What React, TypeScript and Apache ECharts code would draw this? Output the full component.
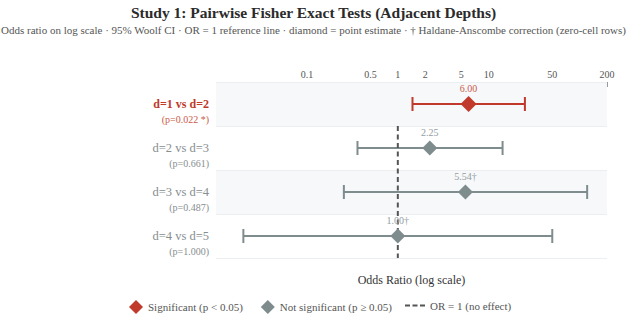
import React, { useEffect, useRef } from "react";
import * as echarts from "echarts";

const categories = ["d=1 vs d=2", "d=2 vs d=3", "d=3 vs d=4", "d=4 vs d=5"];
const pLabels = ["(p=0.022 *)", "(p=0.661)", "(p=0.487)", "(p=1.000)"];
const oddsRatios = [6.0, 2.25, 5.54, 1.0];
const orLabels = ["6.00", "2.25", "5.54†", "1.00†"];
const ciLow = [1.45, 0.36, 0.255, 0.02];
const ciHigh = [25.0, 14.2, 121, 50];
const significant = [true, false, false, false];
const tickValues = [0.1, 0.5, 1, 2, 5, 10, 50, 200];
const axisMin = 0.01;
const axisMax = 200;

const RED = "#c0392b";
const GRAY = "#7f8c8d";
const FONT = "'Liberation Serif', 'Times New Roman', serif";

const lg = (v: number) => Math.log10(v);

export default function App() {
  const ref = useRef<HTMLDivElement>(null);
  useEffect(() => {
    if (!ref.current) return;
    const chart = echarts.init(ref.current, null, { renderer: "svg" });
    const sigData: any[] = [];
    const nsData: any[] = [];
    oddsRatios.forEach((v, i) => {
      const item = { value: [lg(v), i], label: { formatter: orLabels[i] } };
      (significant[i] ? sigData : nsData).push(item);
    });
    const ciData = categories.map((_, i) => [lg(ciLow[i]), lg(ciHigh[i]), i, significant[i] ? 1 : 0]);

    const legendText = { fontFamily: FONT, fontSize: 11, color: "#555" };

    const option: any = {
      animation: false,
      textStyle: { fontFamily: FONT },
      title: [
        {
          text: "Study 1: Pairwise Fisher Exact Tests (Adjacent Depths)",
          left: "center",
          top: -1,
          textStyle: { fontFamily: FONT, fontSize: 15.5, fontWeight: "bold", color: "#2b2b2b" },
        },
        {
          text: "Odds ratio on log scale · 95% Woolf CI · OR = 1 reference line · diamond = point estimate · † Haldane-Anscombe correction (zero-cell rows)",
          left: "center",
          top: 19,
          textStyle: { fontFamily: FONT, fontSize: 11, fontWeight: "normal", color: "#555" },
        },
      ],
      graphic: [
        {
          type: "text",
          x: 411.5,
          y: 280,
          style: {
            text: "Odds Ratio (log scale)",
            fontFamily: FONT,
            fontSize: 12,
            fill: "#333",
            textAlign: "center",
            textVerticalAlign: "middle",
          },
        },
      ],
      legend: [
        {
          top: 295,
          left: 124,
          itemWidth: 14,
          itemHeight: 14,
          itemGap: 18,
          textStyle: legendText,
          data: [
            { name: "Significant (p < 0.05)", icon: "diamond" },
            { name: "Not significant (p ≥ 0.05)", icon: "diamond" },
          ],
        },
        {
          top: 295,
          left: 400,
          itemWidth: 20,
          itemHeight: 14,
          textStyle: legendText,
          data: [
            {
              name: "OR = 1 (no effect)",
              icon: "path://M0,0h5v2H0z M7.5,0h5v2h-5z M15,0h5v2h-5z",
            },
          ],
        },
      ],
      grid: { left: 216, right: 20, top: 82, height: 176 },
      xAxis: {
        type: "value",
        position: "top",
        min: lg(axisMin),
        max: lg(axisMax),
        axisLine: { show: false },
        splitLine: { show: false },
        axisTick: {
          show: true,
          inside: true,
          length: 5,
          customValues: [lg(200)],
          lineStyle: { color: "#999" },
        },
        axisLabel: {
          customValues: tickValues.map(lg),
          formatter: (v: number) => String(Number(Math.pow(10, v).toPrecision(3))),
          fontFamily: FONT,
          fontSize: 10,
          color: "#555",
          margin: 3,
        },
      },
      yAxis: {
        type: "category",
        inverse: true,
        data: categories,
        axisLine: { show: false },
        axisTick: { show: false },
        splitLine: { show: true, lineStyle: { color: "#eceff2", width: 1 } },
        splitArea: { show: true, areaStyle: { color: ["#f6f8fa", "#ffffff"] } },
        axisLabel: {
          margin: 7,
          align: "right",
          formatter: (v: string) => {
            const i = categories.indexOf(v);
            const s = significant[i];
            return `{gap| }\n{${s ? "sig" : "ns"}|${v}}\n{${s ? "sigP" : "nsP"}|${pLabels[i]}}`;
          },
          rich: {
            gap: { fontSize: 10, lineHeight: 15 },
            sig: { fontFamily: FONT, fontSize: 12, fontWeight: "bold", color: RED, lineHeight: 16, align: "right" },
            sigP: { fontFamily: FONT, fontSize: 10, color: "#cc5a4a", lineHeight: 15, align: "right" },
            ns: { fontFamily: FONT, fontSize: 12.5, color: "#868e90", lineHeight: 16, align: "right" },
            nsP: { fontFamily: FONT, fontSize: 10, color: "#868e90", lineHeight: 15, align: "right" },
          },
        },
      },
      series: [
        {
          type: "custom",
          name: "ci",
          data: ciData,
          encode: { x: [0, 1], y: 2 },
          z: 2,
          renderItem: (params: any, api: any) => {
            const lo = api.value(0);
            const hi = api.value(1);
            const idx = api.value(2);
            const c = api.value(3) ? RED : GRAY;
            const p1 = api.coord([lo, idx]);
            const p2 = api.coord([hi, idx]);
            const cap = 7;
            const st = { stroke: c, lineWidth: 2 };
            return {
              type: "group",
              children: [
                { type: "line", shape: { x1: p1[0], y1: p1[1], x2: p2[0], y2: p2[1] }, style: st },
                { type: "line", shape: { x1: p1[0], y1: p1[1] - cap, x2: p1[0], y2: p1[1] + cap }, style: st },
                { type: "line", shape: { x1: p2[0], y1: p2[1] - cap, x2: p2[0], y2: p2[1] + cap }, style: st },
              ],
            };
          },
        },
        {
          type: "custom",
          name: "ref",
          data: [[lg(1), 0]],
          encode: { x: 0, y: 1 },
          z: 3,
          renderItem: (params: any, api: any) => {
            const x = api.coord([api.value(0), 0])[0];
            const h = api.size([0, 1])[1];
            const yTop = api.coord([0, 1])[1] - h / 2;
            const yBot = api.coord([0, categories.length - 1])[1] + h / 2;
            return {
              type: "line",
              shape: { x1: x, y1: yTop, x2: x, y2: yBot },
              style: { stroke: "#555", lineWidth: 2, lineDash: [5, 3.5] },
            };
          },
        },
        {
          type: "scatter",
          name: "Significant (p < 0.05)",
          data: sigData,
          symbol: "diamond",
          symbolSize: 16,
          z: 4,
          itemStyle: { color: RED, opacity: 1 },
          label: { show: true, position: "top", distance: 3, fontFamily: FONT, fontSize: 10, color: "#cc5a4a" },
        },
        {
          type: "scatter",
          name: "Not significant (p ≥ 0.05)",
          data: nsData,
          symbol: "diamond",
          symbolSize: 15,
          z: 4,
          itemStyle: { color: GRAY, opacity: 1 },
          label: { show: true, position: "top", distance: 3, fontFamily: FONT, fontSize: 10, color: "#939d9f" },
        },
        {
          type: "line",
          name: "OR = 1 (no effect)",
          data: [],
          symbol: "none",
          itemStyle: { color: "#555" },
          lineStyle: { color: "#555", width: 2, type: [5, 3] },
        },
      ],
    };
    chart.setOption(option);
    return () => chart.dispose();
  }, []);
  return (
    <div
      ref={ref}
      style={{ position: "fixed", left: 0, top: 0, width: 627, height: 317, background: "#fff" }}
    />
  );
}
